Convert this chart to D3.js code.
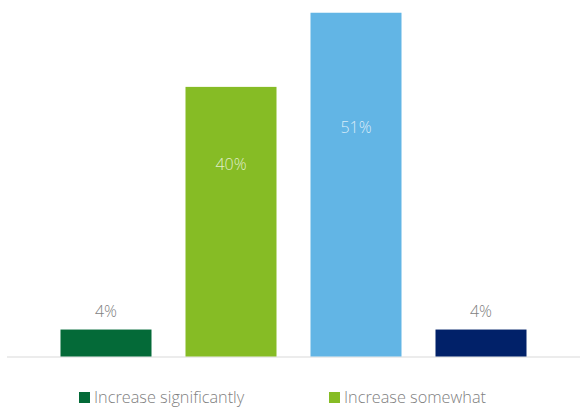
<!DOCTYPE html>
<html>
<head>
<meta charset="utf-8">
<script src="https://cdn.jsdelivr.net/npm/d3@7"></script>
<style>
  html, body { margin: 0; padding: 0; background: #fff; }
  svg { display: block; }
  text { font-family: "Open Sans", sans-serif; font-weight: 300; }
</style>
</head>
<body>
<svg id="chart" width="581" height="410"></svg>
<script>
// Survey response categories and their shares (%)
const categories = ["Increase significantly", "Increase somewhat", "Stay the same", "Decrease"];
const values = [4, 40, 51, 4];
const colors = ["#046a38", "#86bc25", "#62b5e5", "#012169"];
// Which labels sit inside the bar (light text) versus above it (grey text)
const labelInside = [false, true, true, false];
const legendItems = ["Increase significantly", "Increase somewhat"];

const svg = d3.select("#chart");

const x = d3.scaleBand()
  .domain(categories)
  .range([7, 580])
  .paddingInner(0.272)
  .paddingOuter(0.428);

const y = d3.scaleLinear()
  .domain([0, 52])
  .range([356.5, 6]);

// Baseline
svg.append("line")
  .attr("x1", 7).attr("x2", 580)
  .attr("y1", y(0) + 0.5).attr("y2", y(0) + 0.5)
  .attr("stroke", "#d9d9d9").attr("stroke-width", 1);

// Bars
svg.selectAll("rect.bar")
  .data(categories)
  .join("rect")
  .attr("class", "bar")
  .attr("x", d => x(d))
  .attr("width", x.bandwidth())
  .attr("y", (d, i) => y(values[i]))
  .attr("height", (d, i) => y(0) - y(values[i]))
  .attr("fill", (d, i) => colors[i]);

// Value labels
svg.selectAll("text.val")
  .data(categories)
  .join("text")
  .attr("class", "val")
  .attr("x", d => x(d) + x.bandwidth() / 2)
  .attr("y", (d, i) => labelInside[i]
      ? (y(values[i]) + y(17)) / 2 + 6
      : y(values[i]) - 13)
  .attr("text-anchor", "middle")
  .attr("font-size", 16)
  .attr("fill", (d, i) => labelInside[i] ? "rgba(255,255,255,0.75)" : "#7f7f7f")
  .text((d, i) => values[i] + "%");

// Legend
const legendX = [79, 329];
const lg = svg.selectAll("g.legend")
  .data(legendItems)
  .join("g")
  .attr("class", "legend")
  .attr("transform", (d, i) => `translate(${legendX[i]},392)`);

lg.append("rect")
  .attr("width", 11).attr("height", 11)
  .attr("fill", (d, i) => colors[i]);

lg.append("text")
  .attr("x", 15)
  .attr("y", 11)
  .attr("font-size", 16.3)
  .attr("fill", "#7f7f7f")
  .text(d => d);
</script>
</body>
</html>
